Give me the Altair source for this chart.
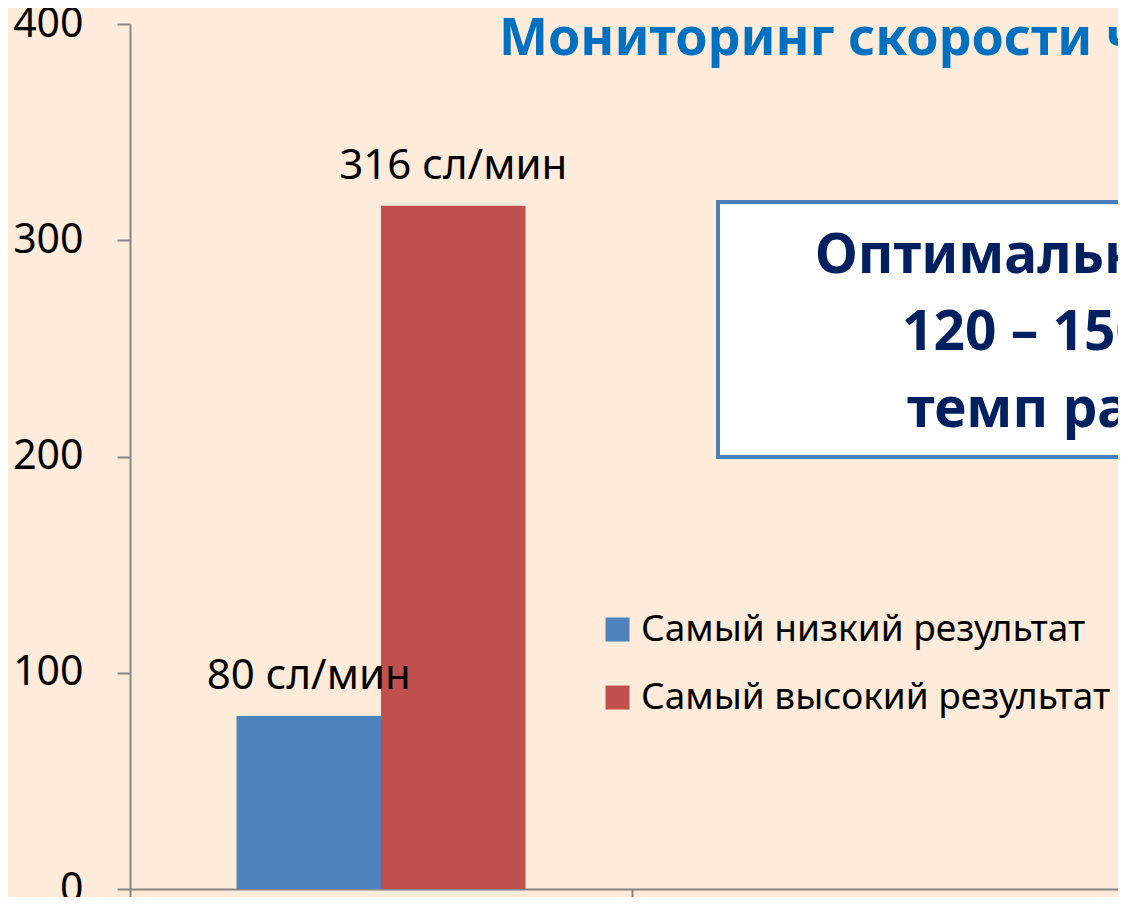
import altair as alt
import pandas as pd

# ---- data ----
categories = ["Скорость чтения"]
empty_category = ["—"]
series = ["Самый низкий результат", "Самый высокий результат"]
values = [80, 316]
unit = " сл/мин"
colors = ["#4F81BD", "#C0504D"]
y_ticks = [0, 100, 200, 300, 400]
title_text = "Мониторинг скорости чтения"
box_lines = ["Оптимальный темп чтения:", "120 – 150 слов в минуту –", "темп разговорной речи"]

BG = "#FEEBD9"
AXIS = "#868686"
FONT = "Noto Sans"

df = pd.DataFrame({"cat": categories * len(series), "series": series, "value": values})

x_scale = alt.Scale(domain=categories + empty_category, range=[0, 1004], paddingInner=0, paddingOuter=0)
xo_scale = alt.Scale(domain=series, paddingInner=0, paddingOuter=0.737)
y_scale = alt.Scale(domain=[0, 400], nice=False)
c_scale = alt.Scale(domain=series, range=colors)

x_axis = alt.Axis(labels=False, title=None, bandPosition=0, tickSize=16,
                  domainColor=AXIS, tickColor=AXIS, domainWidth=2, tickWidth=2)
y_axis = alt.Axis(values=y_ticks, title=None, grid=False, labelFontSize=41,
                  labelFont=FONT, labelColor="black", labelPadding=34, tickSize=13,
                  domainColor=AXIS, tickColor=AXIS, domainWidth=2, tickWidth=2)

base = alt.Chart(df)

bars = base.mark_bar().encode(
    x=alt.X("cat:N", scale=x_scale, sort=None, axis=x_axis),
    xOffset=alt.XOffset("series:N", scale=xo_scale, sort=series),
    y=alt.Y("value:Q", scale=y_scale, axis=y_axis),
    color=alt.Color("series:N", scale=c_scale, sort=series,
                    legend=alt.Legend(orient="none", legendX=469, legendY=587, title=None,
                                      symbolType="square", symbolSize=576, symbolStrokeWidth=0,
                                      symbolOpacity=1, labelFontSize=37, labelFont=FONT,
                                      labelColor="black", rowPadding=30, labelOffset=5,
                                      padding=0, labelLimit=0)),
)

labels = base.transform_calculate(label="datum.value + '" + unit + "'").mark_text(
    fontSize=42, font=FONT, dy=-27, baseline="alphabetic", align="center", color="black"
).encode(
    x=alt.X("cat:N", scale=x_scale, sort=None, axis=x_axis),
    xOffset=alt.XOffset("series:N", scale=xo_scale, sort=series),
    y=alt.Y("value:Q", scale=y_scale, axis=y_axis),
    text="label:N",
)

one = pd.DataFrame({"t": [title_text]})
title = alt.Chart(one).mark_text(
    align="left", baseline="alphabetic", fontSize=52, fontWeight="bold", font=FONT, color="#0070C0"
).encode(x=alt.value(369), y=alt.value(31), text="t:N")

box = alt.Chart(one).mark_rect(fill="white", stroke="#4A7EBB", strokeWidth=4).encode(
    x=alt.value(588), x2=alt.value(1100), y=alt.value(178), y2=alt.value(433)
)

box_text_layers = []
for line, xv, yv in zip(box_lines, [685, 772, 777], [249, 326, 403]):
    box_text_layers.append(
        alt.Chart(pd.DataFrame({"t": [line]})).mark_text(
            align="left", baseline="alphabetic", fontSize=55, fontWeight="bold", font=FONT, color="#002060"
        ).encode(x=alt.value(xv), y=alt.value(yv), text="t:N")
    )

chart = alt.layer(box, *box_text_layers, bars, labels, title).properties(
    width=988, height=865,
    autosize=alt.AutoSizeParams(type="none"),
    padding={"left": 122, "top": 16, "right": 0, "bottom": 8},
    background=BG,
).configure_view(stroke=None)

chart.save("out.html", embed_options={"renderer": "svg", "actions": False})
